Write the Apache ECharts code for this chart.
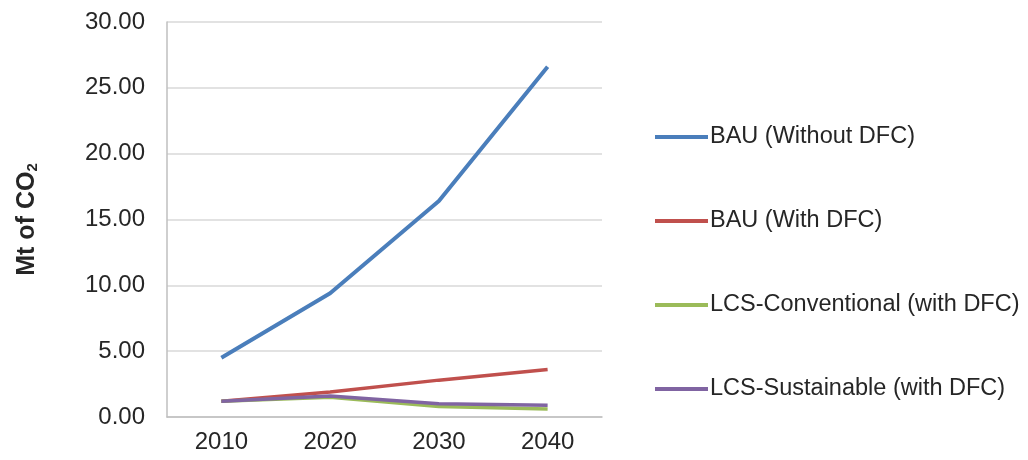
<!DOCTYPE html>
<html>
<head>
<meta charset="utf-8">
<script src="https://cdn.jsdelivr.net/npm/echarts@6/dist/echarts.min.js"></script>
<style>
  html, body { margin: 0; padding: 0; background: #fff; }
  #chart { width: 1028px; height: 460px; }
</style>
</head>
<body>
<div id="chart"></div>
<script>
// 数据
const years = ['2010', '2020', '2030', '2040'];
const bauWithout = [4.5, 9.4, 16.4, 26.6];
const bauWith = [1.2, 1.9, 2.8, 3.6];
const lcsConventional = [1.2, 1.5, 0.8, 0.6];
const lcsSustainable = [1.2, 1.6, 1.0, 0.9];

const seriesNames = [
    'BAU (Without DFC)',
    'BAU (With DFC)',
    'LCS-Conventional (with DFC)',
    'LCS-Sustainable (with DFC)'
];
const colors = ['#4a7ebb', '#c0504d', '#9bbb59', '#8064a2'];

const chart = echarts.init(document.getElementById('chart'));

function lineSeries(name, data, color, width) {
    return {
        name: name,
        type: 'line',
        data: data,
        symbol: 'none',
        lineStyle: { color: color, width: width },
        itemStyle: { color: color }
    };
}

chart.setOption({
    animation: false,
    textStyle: { fontFamily: 'Liberation Sans, Arial, sans-serif' },
    grid: { left: 167, right: 426, top: 22, bottom: 43 },
    legend: {
        orient: 'vertical',
        left: 650,
        top: 120,
        itemWidth: 53,
        itemHeight: 4,
        itemGap: 60,
        icon: 'rect',
        textStyle: { fontSize: 23.5, color: '#262626', padding: [0, 0, 0, -3] },
        data: seriesNames
    },
    xAxis: {
        type: 'category',
        data: years,
        boundaryGap: true,
        axisLine: { lineStyle: { color: '#bfbfbf', width: 1.5 } },
        axisTick: { show: false },
        axisLabel: { fontSize: 24, color: '#262626', margin: 13 }
    },
    yAxis: {
        type: 'value',
        min: 0,
        max: 30,
        interval: 5,
        name: '{a|Mt of CO}{b|2}',
        nameLocation: 'middle',
        nameRotate: 90,
        nameGap: 127,
        nameTextStyle: {
            rich: {
                a: { fontSize: 25, fontWeight: 'bold', color: '#262626' },
                b: { fontSize: 15, fontWeight: 'bold', color: '#262626', padding: [10, 0, 0, 0] }
            }
        },
        axisLine: { show: true, lineStyle: { color: '#bfbfbf', width: 1.5 } },
        axisTick: { show: false },
        splitLine: { lineStyle: { color: '#d9d9d9', width: 1.5 } },
        axisLabel: {
            fontSize: 24,
            color: '#262626',
            margin: 22,
            formatter: v => v.toFixed(2)
        }
    },
    series: [
        lineSeries(seriesNames[0], bauWithout, colors[0], 4),
        lineSeries(seriesNames[1], bauWith, colors[1], 3.5),
        lineSeries(seriesNames[2], lcsConventional, colors[2], 3.5),
        lineSeries(seriesNames[3], lcsSustainable, colors[3], 3.5)
    ]
});
</script>
</body>
</html>
